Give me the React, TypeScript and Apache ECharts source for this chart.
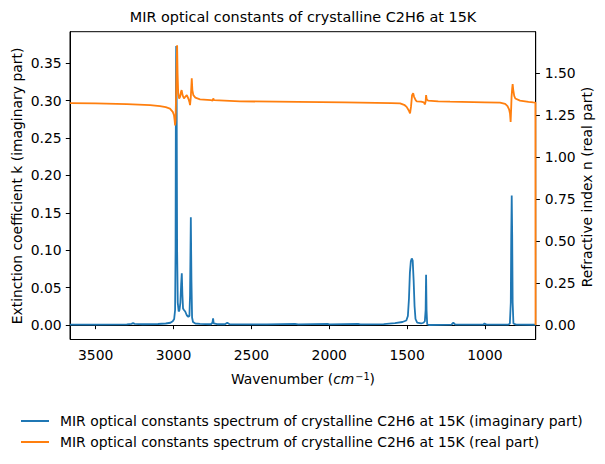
import React, { useEffect, useRef } from "react";
import * as echarts from "echarts";

const kWavenumbers = [
  3665, 3500, 3300, 3270, 3260, 3250, 3200, 3100, 3050, 3020, 3005, 2996, 2990, 2987, 2985, 2983, 2980, 2977, 2973,
  2967, 2962, 2956, 2951, 2947, 2943, 2939, 2933, 2925, 2915, 2905, 2898, 2894, 2889, 2885, 2881, 2875, 2860, 2830,
  2760, 2750, 2746, 2742, 2720, 2670, 2655, 2640, 2400, 2220, 2200, 2010, 2000, 1815, 1800, 1650, 1578, 1530, 1505,
  1495, 1488, 1482, 1476, 1470, 1464, 1458, 1452, 1446, 1435, 1410, 1395, 1386, 1381, 1378, 1375, 1371, 1360, 1215,
  1203, 1190, 1010, 1003, 990, 850, 840, 834, 831, 828, 825, 822, 817, 800, 674,
];
const kValues = [
  0.0005, 0.0005, 0.0008, 0.0015, 0.0025, 0.0015, 0.001, 0.0013, 0.002, 0.003, 0.005, 0.008, 0.02, 0.1, 0.3, 0.373,
  0.3, 0.1, 0.03, 0.018, 0.02, 0.03, 0.055, 0.069, 0.04, 0.022, 0.02, 0.018, 0.013, 0.011, 0.012, 0.04, 0.144, 0.06,
  0.01, 0.004, 0.002, 0.0015, 0.001, 0.003, 0.009, 0.002, 0.001, 0.001, 0.003, 0.001, 0.0008, 0.0015, 0.0008, 0.0015,
  0.0008, 0.0015, 0.0008, 0.0012, 0.0025, 0.004, 0.006, 0.012, 0.035, 0.07, 0.085, 0.089, 0.086, 0.06, 0.025, 0.008,
  0.003, 0.002, 0.003, 0.005, 0.02, 0.067, 0.02, 0.001, 0.0, 0.0005, 0.003, 0.0005, 0.0005, 0.002, 0.0005, 0.0005,
  0.002, 0.03, 0.12, 0.173, 0.12, 0.03, 0.002, 0.0005, 0.0003,
];

const nWavenumbers = [
  3665, 3500, 3300, 3150, 3087, 3050, 3023, 3005, 2997, 2993, 2990, 2987, 2984, 2980, 2977, 2974, 2970, 2964, 2958,
  2952, 2948, 2942, 2933, 2925, 2915, 2905, 2898, 2894, 2889, 2883, 2879, 2873, 2860, 2830, 2760, 2749, 2745, 2740,
  2573, 2200, 1900, 1600, 1545, 1515, 1503, 1490, 1481, 1475, 1468, 1461, 1455, 1445, 1438, 1410, 1392, 1386, 1381,
  1378, 1374, 1365, 1300, 1224, 1000, 903, 870, 855, 845, 839, 835, 832, 829, 825, 822, 818, 812, 805, 775, 720, 689,
  676, 675,
];
const nValues = [
  1.322, 1.321, 1.317, 1.311, 1.305, 1.298, 1.29, 1.27, 1.25, 1.22, 1.19, 1.22, 1.35, 1.55, 1.667, 1.5, 1.38, 1.35,
  1.36, 1.39, 1.4, 1.37, 1.35, 1.36, 1.37, 1.35, 1.33, 1.31, 1.36, 1.47, 1.4, 1.37, 1.355, 1.345, 1.34, 1.337, 1.35,
  1.34, 1.333, 1.33, 1.327, 1.323, 1.321, 1.31, 1.3, 1.28, 1.262, 1.3, 1.37, 1.381, 1.36, 1.34, 1.333, 1.331, 1.327,
  1.315, 1.33, 1.37, 1.345, 1.337, 1.333, 1.331, 1.327, 1.325, 1.318, 1.305, 1.285, 1.26, 1.21, 1.28, 1.36, 1.41,
  1.436, 1.4, 1.365, 1.35, 1.337, 1.33, 1.327, 1.326, 0,
];

const xTicks = [1000, 1500, 2000, 2500, 3000, 3500];
const kTicks = [0, 0.05, 0.1, 0.15, 0.2, 0.25, 0.3, 0.35];
const nTicks = [0, 0.25, 0.5, 0.75, 1.0, 1.25, 1.5];

const kName = "MIR optical constants spectrum of crystalline C2H6 at 15K (imaginary part)";
const nName = "MIR optical constants spectrum of crystalline C2H6 at 15K (real part)";
const titleText = "MIR optical constants of crystalline C2H6 at 15K";

const FONT = "DejaVu Sans";
const FS = 13.9;

export default function App() {
  const ref = useRef<HTMLDivElement>(null);
  useEffect(() => {
    if (!ref.current) return;
    const chart = echarts.init(ref.current, null, { renderer: "svg" });
    const kData = kWavenumbers.map((w, i) => [w, kValues[i]]);
    const nData = nWavenumbers.map((w, i) => [w, nValues[i]]);
    const axisCommon = {
      axisLine: { show: true, lineStyle: { color: "#000", width: 1 } },
      axisTick: { show: true, length: 4.2, lineStyle: { color: "#000", width: 1 } },
      splitLine: { show: false },
    };
    const labelCommon = { fontSize: FS, fontFamily: FONT, color: "#000" };
    chart.setOption({
      animation: false,
      grid: {
        left: 70,
        right: 69.3,
        top: 31.7,
        bottom: 124.5,
        show: true,
        borderColor: "#000",
        borderWidth: 1,
        backgroundColor: "transparent",
      },
      xAxis: {
        type: "value",
        min: 674,
        max: 3665,
        inverse: true,
        ...axisCommon,
        axisTick: { ...axisCommon.axisTick, customValues: xTicks },
        axisLabel: {
          ...labelCommon,
          customValues: xTicks,
          margin: 8,
          formatter: (v: number) => String(v),
        },
      },
      yAxis: [
        {
          type: "value",
          min: -0.0194,
          max: 0.392,
          position: "left",
          ...axisCommon,
          axisTick: { ...axisCommon.axisTick, customValues: kTicks },
          axisLabel: {
            ...labelCommon,
            customValues: kTicks,
            margin: 8.4,
            formatter: (v: number) => v.toFixed(2),
          },
        },
        {
          type: "value",
          min: -0.086,
          max: 1.748,
          position: "right",
          ...axisCommon,
          axisTick: { ...axisCommon.axisTick, customValues: nTicks },
          axisLabel: {
            ...labelCommon,
            customValues: nTicks,
            margin: 9,
            formatter: (v: number) => v.toFixed(2),
          },
        },
      ],
      legend: {
        orient: "vertical",
        left: 21,
        top: 413,
        padding: 0,
        itemWidth: 28,
        itemHeight: 2,
        itemGap: 5,
        icon: "rect",
        textStyle: {
          ...labelCommon,
          lineHeight: 16,
          padding: [0, 0, 0, 6],
        },
        data: [kName, nName],
      },
      series: [
        {
          name: kName,
          type: "line",
          data: kData,
          yAxisIndex: 0,
          symbol: "none",
          color: "#1f77b4",
          lineStyle: { width: 1.8, color: "#1f77b4" },
          z: 2,
        },
        {
          name: nName,
          type: "line",
          data: nData,
          yAxisIndex: 1,
          symbol: "none",
          color: "#ff7f0e",
          lineStyle: { width: 1.8, color: "#ff7f0e" },
          z: 3,
        },
      ],
      graphic: [
        {
          type: "text",
          x: 303,
          y: 17,
          style: {
            text: titleText,
            fontSize: 14.4,
            fontFamily: FONT,
            fill: "#000",
            align: "center",
            verticalAlign: "middle",
          },
        },
        {
          type: "text",
          x: 17,
          y: 186,
          rotation: Math.PI / 2,
          style: {
            text: "Extinction coefficient k (imaginary part)",
            fontSize: FS,
            fontFamily: FONT,
            fill: "#000",
            align: "center",
            verticalAlign: "middle",
          },
        },
        {
          type: "text",
          x: 587,
          y: 187,
          rotation: Math.PI / 2,
          style: {
            text: "Refractive index n (real part)",
            fontSize: FS,
            fontFamily: FONT,
            fill: "#000",
            align: "center",
            verticalAlign: "middle",
          },
        },
        {
          type: "text",
          x: 303,
          y: 379,
          style: {
            text: "Wavenumber ({i|cm}{s|−1})",
            fontSize: FS,
            fontFamily: FONT,
            fill: "#000",
            align: "center",
            verticalAlign: "middle",
            rich: {
              i: { fontSize: FS, fontFamily: FONT, fontStyle: "italic", fill: "#000", lineHeight: 16 },
              s: {
                fontSize: 9.7,
                fontFamily: FONT,
                fill: "#000",
                lineHeight: 10,
                verticalAlign: "top",
                padding: [0, 0, 4, 1],
              },
            },
          },
        },
      ],
    });
    return () => chart.dispose();
  }, []);
  return (
    <div
      ref={ref}
      style={{ position: "absolute", left: 0, top: 0, width: 605, height: 464 }}
    />
  );
}
